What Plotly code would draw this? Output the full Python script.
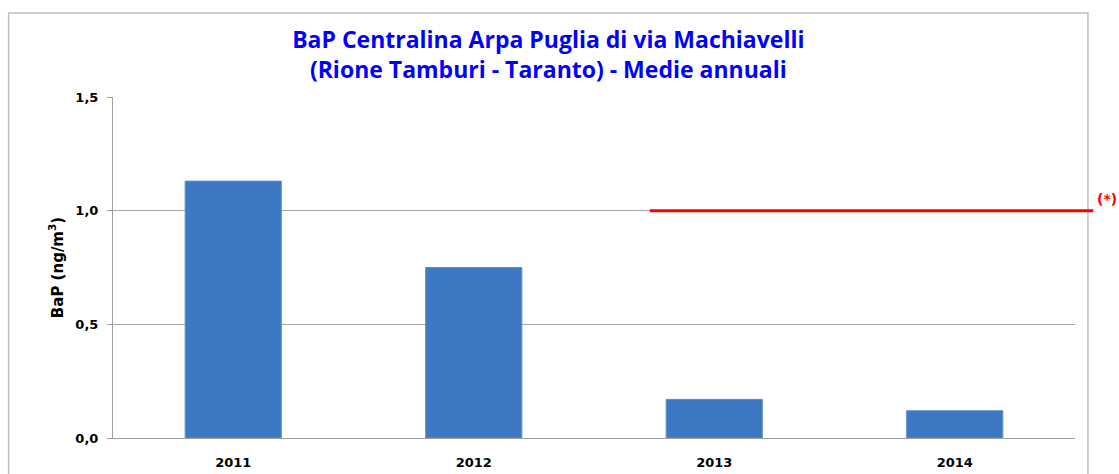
import plotly.graph_objects as go

years = ["2011", "2012", "2013", "2014"]
bap_values = [1.13, 0.75, 0.17, 0.12]
limit_value = 1.0
y_ticks = [0.0, 0.5, 1.0, 1.5]

fig = go.Figure()
fig.add_trace(go.Bar(
    x=years, y=bap_values, width=0.4,
    marker=dict(color="#3D78C3", line=dict(color="#5A8FD6", width=1)),
    showlegend=False,
))

fig.update_layout(
    width=1119, height=474,
    margin=dict(l=113, r=44, t=97, b=36),
    paper_bgcolor="white", plot_bgcolor="white",
    separators=",.",
    title=dict(
        text="BaP Centralina Arpa Puglia di via Machiavelli<br>(Rione Tamburi - Taranto) - Medie annuali",
        font=dict(family="Open Sans", size=23, color="#0000FF", weight="bold"),
        x=0.49, xref="container", xanchor="center", y=0.899, yanchor="bottom",
    ),
    font=dict(family="DejaVu Sans", color="black"),
    xaxis=dict(
        showline=True, linecolor="#A0A0A0", linewidth=1, automargin=False,
        tickfont=dict(size=13, weight="bold"), ticks="", ticklabelstandoff=12,
    ),
    yaxis=dict(
        range=[0, 1.5], tickvals=y_ticks, tickformat=".1f", automargin=False,
        showgrid=True, gridcolor="#A6A6A6", gridwidth=1,
        showline=True, linecolor="#A0A0A0", linewidth=1,
        ticks="outside", ticklen=5, tickcolor="#A0A0A0", ticklabelstandoff=6,
        tickfont=dict(size=13, weight="bold"),
        title=dict(text="BaP (ng/m<sup>3</sup>)", font=dict(size=15, weight="bold"), standoff=8),
        zeroline=False,
    ),
)

# limit line
fig.add_shape(type="line", xref="paper", yref="y",
              x0=0.558, x1=1.019, y0=limit_value, y1=limit_value,
              line=dict(color="#FF0000", width=3))
fig.add_annotation(text="(*)", xref="paper", yref="y", x=1.046, y=limit_value,
                   yshift=12, showarrow=False,
                   font=dict(family="DejaVu Sans", size=14, color="#FF0000", weight="bold"))

# outer chart border
fig.add_shape(type="rect", xref="paper", yref="paper",
              x0=-0.1085, x1=1.0135, y0=-0.2, y1=1.246,
              line=dict(color="#BFBFBF", width=1.5), layer="below")

fig.write_html("out.html", config={"displayModeBar": False},
               post_script="document.body.style.margin='0';document.body.style.overflow='hidden';")
